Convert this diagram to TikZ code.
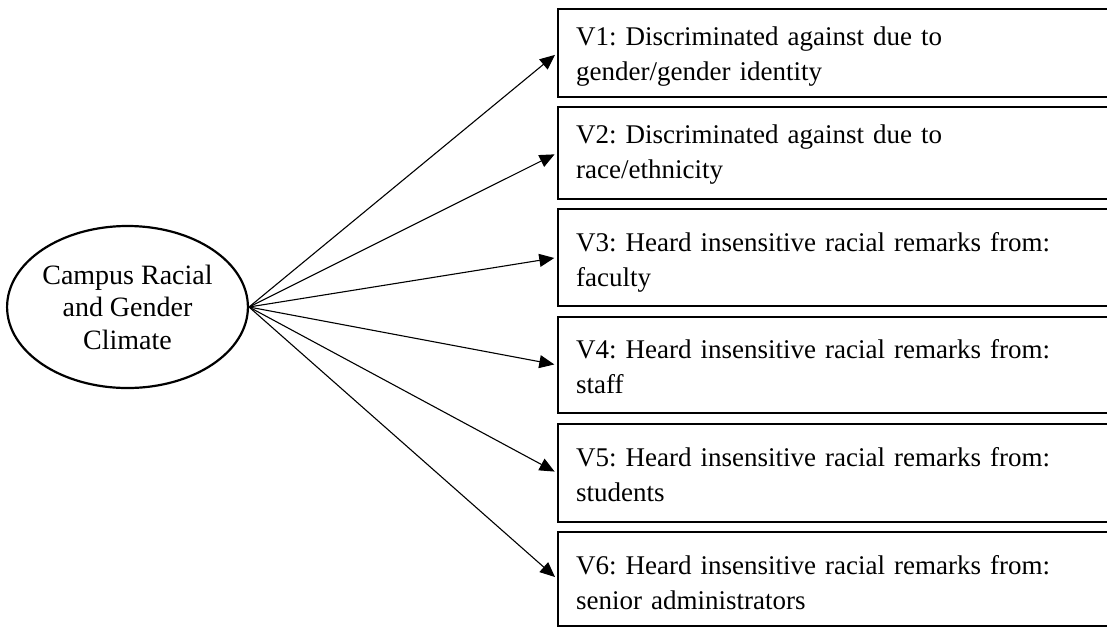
\documentclass[tikz,border=0pt]{standalone}
\usepackage{fontspec}
\setmainfont{Liberation Serif}
\usetikzlibrary{arrows.meta,shapes.geometric}
\frenchspacing
\begin{document}
\begin{tikzpicture}[x=1pt,y=-1pt,
  latent/.style={ellipse,draw,line width=2.2pt,minimum width=235pt,minimum height=162pt,
    inner sep=0pt,align=center,font=\fontsize{28}{32.5}\selectfont},
  itembox/.style={rectangle,draw,line width=1.5pt,inner sep=0pt,minimum width=582pt},
  itemtext/.style={anchor=base west,inner sep=0pt,text width=520pt,align=left,
    font=\fontsize{27}{35}\selectfont},
  load/.style={line width=1.1pt,-{Triangle[length=15pt,width=13pt]},shorten >=3pt}]
\useasboundingbox (0,0) rectangle (1107,627);
\clip (0,0) rectangle (1107,627);
\fill[white] (0,0) rectangle (1107,627);

% latent construct
\node[latent] (clim) at (127.5,307) {Campus Racial\\and Gender\\Climate};

% indicator boxes (right edges run off the page)
\node[itembox,minimum height=88pt] (b1) at (849,53) {};
\node[itembox,minimum height=92pt] (b2) at (849,153) {};
\node[itembox,minimum height=97pt] (b3) at (849,257.5) {};
\node[itembox,minimum height=96pt] (b4) at (849,365) {};
\node[itembox,minimum height=98pt] (b5) at (849,473) {};
\node[itembox,minimum height=94pt] (b6) at (849,579) {};

\node[itemtext] (t1) at (576,45) {V1: Discriminated against due to\\gender/gender identity};
\node[itemtext] (t2) at (576,143) {V2: Discriminated against due to\\race/ethnicity};
\node[itemtext] (t3) at (576,251) {V3: Heard insensitive racial remarks from:\\faculty};
\node[itemtext] (t4) at (576,358) {V4: Heard insensitive racial remarks from:\\staff};
\node[itemtext] (t5) at (576,466) {V5: Heard insensitive racial remarks from:\\students};
\node[itemtext] (t6) at (576,574) {V6: Heard insensitive racial remarks from:\\senior administrators};

% factor loadings
\foreach \b in {b1,b2,b3,b4,b5,b6}
  \draw[load] (clim.east) -- (\b.west);
\end{tikzpicture}
\end{document}
